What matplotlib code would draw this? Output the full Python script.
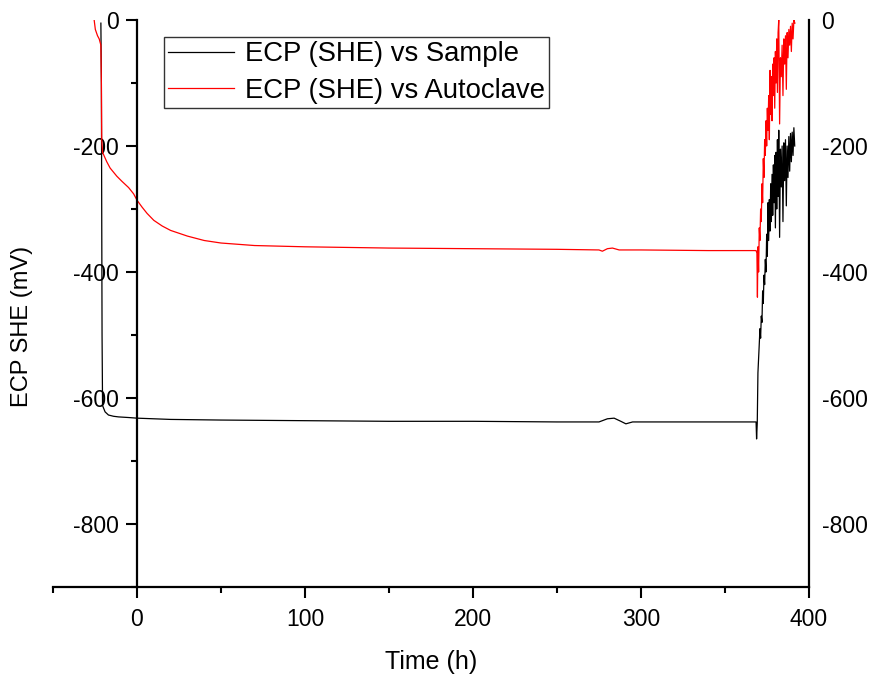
import matplotlib
matplotlib.use('Agg')
import matplotlib.pyplot as plt
from matplotlib.ticker import MultipleLocator

plt.rcParams['font.family'] = ['Liberation Sans', 'DejaVu Sans']
plt.rcParams['axes.unicode_minus'] = False

# ECP (SHE) vs Sample -- black
t_sample = [-21.5, -21.2, -21.0, -20.8, -20.5, -19, -17, -14, -11, -5, 0, 20, 50, 100,
            150, 200, 250, 275, 280, 284, 288, 291, 295, 300, 340, 368.5,
            368.8, 369.2, 369.6, 370.3, 370.8, 371.2, 371.6, 372.0, 372.4, 372.8,
            373.2, 373.6, 374.0, 374.4, 374.8, 375.2, 375.6, 376.0, 376.4, 376.8,
            377.2, 377.6, 378.0, 378.4, 378.8, 379.2, 379.6, 380.0, 380.4, 380.8,
            381.2, 381.6, 382.0, 382.5, 383.0, 383.5, 384.0, 384.5, 385.0, 385.5,
            386.0, 386.5, 387.0, 387.5, 388.0, 388.5, 389.0, 389.5, 390.0, 390.5,
            391.0, 391.5]
ecp_sample = [-5, -100, -300, -500, -612, -622, -627, -629, -630, -631, -632, -634, -635, -636,
              -637, -637, -638, -638, -633, -632, -637, -641, -638, -638, -638, -638,
              -665, -640, -560, -520, -490, -505, -470, -480, -430, -450,
              -405, -420, -380, -400, -340, -375, -290, -350, -285, -335,
              -260, -320, -245, -310, -230, -290, -215, -330, -210, -300,
              -190, -280, -175, -345, -205, -265, -200, -320, -195, -255,
              -190, -295, -200, -250, -185, -240, -180, -225, -178, -215,
              -171, -200]

# ECP (SHE) vs Autoclave -- red
t_auto = [-25.5, -24.8, -23.5, -22.5, -21.5, -21.2, -21.0, -20.5, -18, -16, -12, -9, -5, -2,
          0, 3, 6, 10, 15, 20, 30, 40, 50, 70, 100, 150, 200, 250, 275, 277, 280, 283,
          287, 300, 340, 368.5,
          369.0, 369.3, 369.6, 370.0, 370.4, 370.8, 371.2, 371.6, 372.0, 372.4,
          372.8, 373.2, 373.6, 374.0, 374.4, 374.8, 375.2, 375.6, 376.0, 376.4,
          376.8, 377.2, 377.6, 378.0, 378.4, 378.8, 379.2, 379.6, 380.0, 380.4,
          380.8, 381.2, 381.6, 382.0, 382.5, 383.0, 383.5, 384.0, 384.5, 385.0,
          385.5, 386.0, 386.5, 387.0, 387.5, 388.0, 388.5, 389.0, 389.5, 390.0,
          390.5, 391.0, 391.6]
ecp_auto = [0, -15, -25, -30, -40, -100, -190, -210, -225, -235, -248, -256, -266, -276,
            -286, -297, -307, -318, -327, -334, -343, -350, -354, -358, -360, -362, -363, -364, -365, -367, -363, -362,
            -365, -365, -366, -366,
            -370, -440, -360, -400, -330, -350, -300, -320, -260, -290,
            -220, -250, -190, -215, -160, -200, -140, -175, -120, -190,
            -80, -150, -90, -160, -70, -120, -60, -140, -50, -100,
            -30, -115, -20, 0, -165, -60, -90, -40, -120, -30,
            -70, -25, -110, -20, -60, -15, -40, -10, -50, -5,
            -30, 0, -5]

x_major = [0, 100, 200, 300, 400]
y_major = [0, -200, -400, -600, -800]

fig = plt.figure(figsize=(8.7, 6.76), dpi=100)
ax = fig.add_axes([53/870, 89/676, 756/870, 567/676])

ax.plot(t_sample, ecp_sample, color='black', lw=0.9, label='ECP (SHE) vs Sample')
ax.plot(t_auto, ecp_auto, color='red', lw=0.9, label='ECP (SHE) vs Autoclave')

ax.set_xlim(-50, 400)
ax.set_ylim(-900, 0)

ax.spines['left'].set_position(('data', 0))
ax.spines['top'].set_visible(False)
for s in ['left', 'bottom', 'right']:
    ax.spines[s].set_linewidth(1.6)

ax.set_xticks(x_major)
ax.set_yticks(y_major)
ax.xaxis.set_minor_locator(MultipleLocator(50))
ax.yaxis.set_minor_locator(MultipleLocator(100))
ax.tick_params(which='major', direction='out', length=8, width=1.5, labelsize=16.5, pad=5)
ax.tick_params(axis='x', which='major', pad=7)
ax.tick_params(which='minor', direction='out', length=4, width=1.5)
ax.tick_params(axis='y', which='both', right=False)
ax.tick_params(axis='x', which='both', top=False)

ax2 = ax.twinx()
ax2.set_ylim(-900, 0)
ax2.set_yticks(y_major)
ax2.tick_params(axis='y', length=0, labelsize=16.5, pad=9)
for s in ['top', 'left', 'bottom', 'right']:
    ax2.spines[s].set_visible(False)

ax.set_xlabel('Time (h)', fontsize=18, labelpad=14)
fig.text(22/870, 1 - 326/676, 'ECP SHE (mV)', rotation=90, fontsize=17, ha='center', va='center')

leg = ax.legend(loc='upper left', bbox_to_anchor=(164/870, 1 - 37/676), bbox_transform=fig.transFigure,
                borderaxespad=0, fancybox=False, edgecolor='black', fontsize=19.8,
                handlelength=2.4, handletextpad=0.4, borderpad=0.15, labelspacing=0.38)
leg.get_frame().set_linewidth(1.0)

fig.savefig('out.png', dpi=100)
